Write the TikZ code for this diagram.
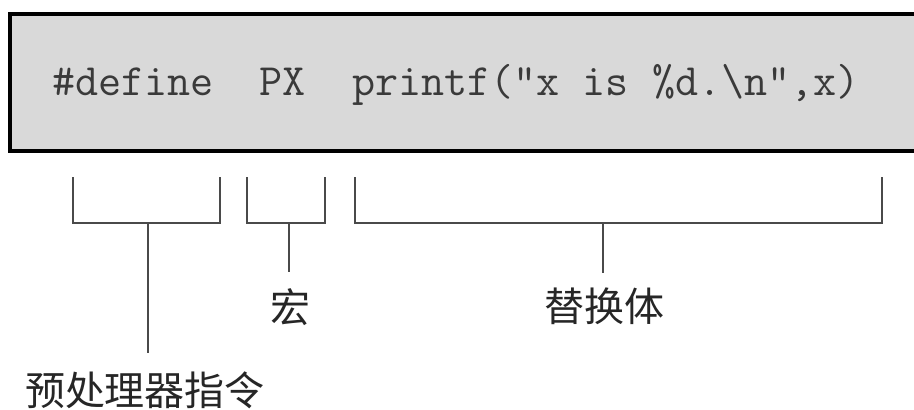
\documentclass[tikz,border=0pt]{standalone}
\usepackage{fontspec}
\newfontfamily\cjk{Noto Sans CJK SC}
\definecolor{boxfill}{HTML}{D9D9D9}
\definecolor{codegray}{HTML}{3A3A3A}
\definecolor{brgray}{HTML}{4A4A4A}
\begin{document}
\begin{tikzpicture}[x=1pt,y=-1pt,
  codebox/.style={draw=black,line width=4pt,fill=boxfill},
  bracketline/.style={draw=brgray,line width=2.6pt},
  codetext/.style={inner sep=0pt,anchor=base west,text=codegray,font=\ttfamily\fontsize{44.8}{44.8}\selectfont},
  lbl/.style={inner sep=0pt,text=black!85,font=\cjk\fontsize{40}{40}\selectfont}]
\useasboundingbox (0,0) rectangle (914,410);
\begin{scope}
\clip (0,0) rectangle (914,410);
\draw[codebox] (10,14) rectangle (920,151);
\end{scope}
\node[codetext] (code) at (52,95) {\#define\ \ PX\ \ printf("x is \%d.\textbackslash n",x)};
% bracket 1
\coordinate (b1l) at (73,177);
\coordinate (b1r) at (220,177);
\coordinate (b1s) at (148,223);
\node[lbl] (l1) at (145,390) {预处理器指令};
\draw[bracketline] (b1l) |- (b1r |- b1s) -- (b1r);
\draw[bracketline] (b1s) -- (b1s |- 0,353);
% bracket 2
\coordinate (b2l) at (247,177);
\coordinate (b2r) at (325,177);
\coordinate (b2s) at (289,223);
\node[lbl] (l2) at (290,307) {宏};
\draw[bracketline] (b2l) |- (b2r |- b2s) -- (b2r);
\draw[bracketline] (b2s) -- (b2s |- 0,272);
% bracket 3
\coordinate (b3l) at (355,177);
\coordinate (b3r) at (882,177);
\coordinate (b3s) at (603,223);
\node[lbl] (l3) at (604,306) {替换体};
\draw[bracketline] (b3l) |- (b3r |- b3s) -- (b3r);
\draw[bracketline] (b3s) -- (b3s |- 0,273);
\end{tikzpicture}
\end{document}
